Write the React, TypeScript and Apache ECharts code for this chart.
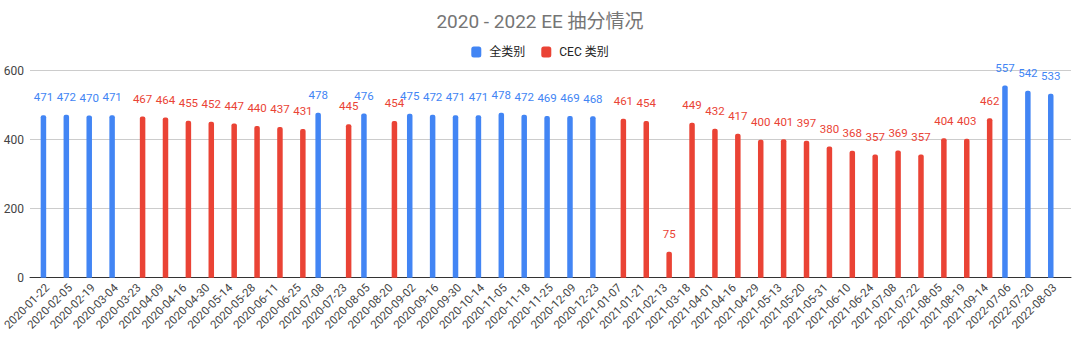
import React, { useEffect, useRef } from "react";
import * as echarts from "echarts";

const categories = [
  "2020-01-22", "2020-02-05", "2020-02-19", "2020-03-04", "2020-03-23", "2020-04-09", "2020-04-16", "2020-04-30",
  "2020-05-14", "2020-05-28", "2020-06-11", "2020-06-25", "2020-07-08", "2020-07-23", "2020-08-05", "2020-08-20",
  "2020-09-02", "2020-09-16", "2020-09-30", "2020-10-14", "2020-11-05", "2020-11-18", "2020-11-25", "2020-12-09",
  "2020-12-23", "2021-01-07", "2021-01-21", "2021-02-13", "2021-03-18", "2021-04-01", "2021-04-16", "2021-04-29",
  "2021-05-13", "2021-05-20", "2021-05-31", "2021-06-10", "2021-06-24", "2021-07-08", "2021-07-22", "2021-08-05",
  "2021-08-19", "2021-09-14", "2022-07-06", "2022-07-20", "2022-08-03",
];

const allProgram: (number | null)[] = [
  471, 472, 470, 471, null, null, null, null,
  null, null, null, null, 478, null, 476, null,
  475, 472, 471, 471, 478, 472, 469, 469,
  468, null, null, null, null, null, null, null,
  null, null, null, null, null, null, null, null,
  null, null, 557, 542, 533,
];

const cecProgram: (number | null)[] = [
  null, null, null, null, 467, 464, 455, 452,
  447, 440, 437, 431, null, 445, null, 454,
  null, null, null, null, null, null, null, null,
  null, 461, 454, 75, 449, 432, 417, 400,
  401, 397, 380, 368, 357, 369, 357, 404,
  403, 462, null, null, null,
];

const yTicks = { min: 0, max: 600, interval: 200 };

const BLUE = "#4285F4";
const RED = "#EA4335";
const FONT = "Roboto, 'Noto Sans CJK SC', sans-serif";

export default function App() {
  const ref = useRef<HTMLDivElement>(null);
  useEffect(() => {
    if (!ref.current) return;
    const chart = echarts.init(ref.current, undefined, { renderer: "svg" });
    const top = 70.7;
    const bottom = 64.3;
    chart.setOption({
      animation: false,
      backgroundColor: "#ffffff",
      textStyle: { fontFamily: FONT },
      title: {
        text: "2020 - 2022 EE 抽分情况",
        left: "center",
        top: 7,
        textStyle: { fontSize: 19, fontWeight: "normal", color: "#757575", fontFamily: FONT },
      },
      legend: {
        top: 41,
        left: "center",
        itemWidth: 10,
        itemHeight: 11,
        itemGap: 16,
        icon: "roundRect",
        textStyle: { fontSize: 12, color: "#222", fontFamily: FONT, padding: [0, 0, 0, 3] },
        data: ["全类别", "CEC 类别"],
      },
      grid: [
        { left: 34, right: 14, top, bottom, containLabel: false },
        { left: 30, right: 9, top, bottom, containLabel: false },
      ],
      xAxis: [
        {
          type: "category",
          gridIndex: 0,
          data: categories,
          axisLine: { show: false },
          axisTick: { show: false },
          axisLabel: { interval: 0, rotate: 45, fontSize: 11.5, color: "#444", margin: 8, fontFamily: FONT },
        },
        {
          type: "value",
          gridIndex: 1,
          min: 0,
          max: 1,
          axisLine: { show: true, lineStyle: { color: "#333", width: 1 } },
          axisTick: { show: false },
          axisLabel: { show: false },
          splitLine: { show: false },
        },
      ],
      yAxis: [
        {
          type: "value",
          gridIndex: 0,
          min: yTicks.min,
          max: yTicks.max,
          interval: yTicks.interval,
          axisLabel: { show: false },
          splitLine: { show: false },
          axisLine: { show: false },
          axisTick: { show: false },
        },
        {
          type: "value",
          gridIndex: 1,
          min: yTicks.min,
          max: yTicks.max,
          interval: yTicks.interval,
          axisLabel: { fontSize: 12, color: "#444", margin: 6, fontFamily: FONT },
          splitLine: { show: true, lineStyle: { color: "#cccccc", width: 1 } },
          axisLine: { show: false },
          axisTick: { show: false },
        },
      ],
      series: [
        {
          name: "全类别",
          type: "bar",
          xAxisIndex: 0,
          yAxisIndex: 0,
          data: allProgram,
          barWidth: 5.5,
          barGap: "38%",
          itemStyle: { color: BLUE, borderRadius: [2, 2, 0, 0] },
          label: { show: true, position: "top", distance: 12, color: BLUE, fontSize: 11.5, fontFamily: FONT },
        },
        {
          name: "CEC 类别",
          type: "bar",
          xAxisIndex: 0,
          yAxisIndex: 0,
          data: cecProgram,
          barWidth: 5.5,
          barGap: "38%",
          itemStyle: { color: RED, borderRadius: [2, 2, 0, 0] },
          label: { show: true, position: "top", distance: 12, color: RED, fontSize: 11.5, fontFamily: FONT },
        },
      ],
    });
    return () => chart.dispose();
  }, []);
  return <div ref={ref} style={{ width: 1080, height: 342, position: "absolute", left: 0, top: 0 }} />;
}
